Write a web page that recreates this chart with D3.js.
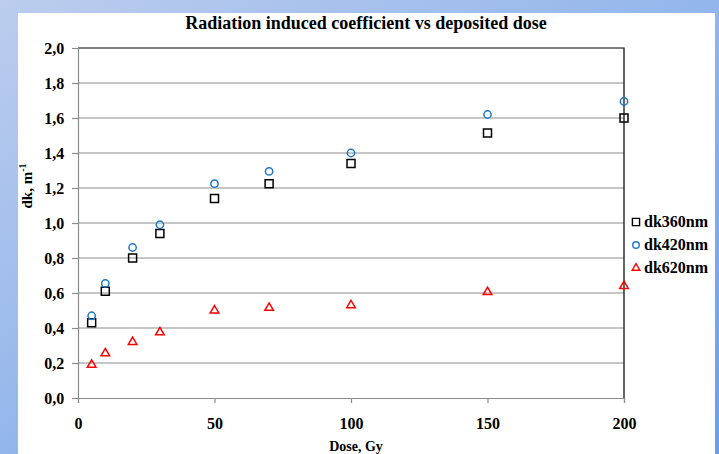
<!DOCTYPE html>
<html>
<head>
<meta charset="utf-8">
<script src="https://cdn.jsdelivr.net/npm/d3@7"></script>
<style>
  html, body { margin: 0; padding: 0; }
  body { width: 719px; height: 454px; overflow: hidden; }
  svg { display: block; }
  svg text { font-family: "Liberation Serif", "DejaVu Serif", serif; font-weight: bold; }
</style>
</head>
<body>
<script>
'use strict';

// values
const doses = [5, 10, 20, 30, 50, 70, 100, 150, 200];
const dk360 = [0.43, 0.61, 0.80, 0.94, 1.14, 1.225, 1.34, 1.515, 1.60];
const dk420 = [0.47, 0.655, 0.86, 0.99, 1.225, 1.295, 1.40, 1.62, 1.695];
const dk620 = [0.19, 0.255, 0.32, 0.375, 0.50, 0.515, 0.53, 0.605, 0.64];
const xTicks = [0, 50, 100, 150, 200];
const yTicks = [0, 0.2, 0.4, 0.6, 0.8, 1.0, 1.2, 1.4, 1.6, 1.8, 2.0];

const W = 719, H = 454;
const margin = {top: 48, right: 95, bottom: 56, left: 78};

const svg = d3.select('body').append('svg')
  .attr('width', W)
  .attr('height', H);

// blue slide background
const defs = svg.append('defs');
const grad = defs.append('linearGradient')
  .attr('id', 'bg')
  .attr('x1', '0%').attr('y1', '0%')
  .attr('x2', '100%').attr('y2', '100%');
grad.append('stop').attr('offset', '0%').attr('stop-color', '#bccdee');
grad.append('stop').attr('offset', '100%').attr('stop-color', '#6a9fe8');

svg.append('rect')
  .attr('width', W).attr('height', H)
  .attr('fill', 'url(#bg)');

svg.append('rect')
  .attr('x', 18).attr('y', 13)
  .attr('width', 715 - 18).attr('height', H - 13)
  .attr('fill', '#ffffff');

const x = d3.scaleLinear().domain([0, 200]).range([margin.left, W - margin.right]);
const y = d3.scaleLinear().domain([0, 2]).range([H - margin.bottom, margin.top]);

// gridlines
svg.append('g')
  .selectAll('line')
  .data(yTicks.filter(d => d > 0 && d < 2))
  .enter().append('line')
  .attr('x1', x(0)).attr('x2', x(200))
  .attr('y1', d => y(d)).attr('y2', d => y(d))
  .attr('stroke', '#8c8c8c')
  .attr('stroke-width', 1);

// top and right frame
svg.append('path')
  .attr('d', 'M' + x(0) + ',' + y(2) + 'H' + x(200) + 'V' + y(0))
  .attr('fill', 'none')
  .attr('stroke', '#000')
  .attr('stroke-width', 1.2);

// axes
const xAxis = d3.axisBottom(x).tickValues(xTicks).tickSize(5).tickFormat(d3.format('d'));
const yAxis = d3.axisLeft(y).tickValues(yTicks).tickSize(6)
  .tickFormat(d => d3.format('.1f')(d).replace('.', ','));

const gx = svg.append('g')
  .attr('transform', 'translate(0,' + y(0) + ')')
  .call(xAxis);
gx.selectAll('text').attr('dy', '1.45em');

const gy = svg.append('g')
  .attr('transform', 'translate(' + x(0) + ',0)')
  .call(yAxis);
gy.selectAll('text').attr('dx', '-0.3em');

svg.selectAll('.domain, .tick line')
  .attr('stroke', '#8c8c8c')
  .attr('stroke-width', 1.2);
svg.selectAll('g.tick text')
  .attr('fill', '#000')
  .style('font-size', '16px');

// series
const series = [
  {name: 'dk360nm', values: dk360, color: '#000000', shape: d3.symbolSquare, size: 64},
  {name: 'dk420nm', values: dk420, color: '#1a78c8', shape: d3.symbolCircle, size: 42},
  {name: 'dk620nm', values: dk620, color: '#ff0000', shape: d3.symbolTriangle, size: 32}
];

series.forEach(s => {
  svg.append('g')
    .selectAll('path')
    .data(doses.map((d, i) => ({dose: d, v: s.values[i]})))
    .enter().append('path')
    .attr('d', d3.symbol().type(s.shape).size(s.size))
    .attr('transform', d => 'translate(' + x(d.dose) + ',' + y(d.v) + ')')
    .attr('fill', 'none')
    .attr('stroke', s.color)
    .attr('stroke-width', 1.5);
});

// legend
const legend = svg.append('g')
  .attr('transform', 'translate(636,222)');
series.forEach((s, i) => {
  legend.append('path')
    .attr('d', d3.symbol().type(s.shape).size(s.size * 0.8))
    .attr('transform', 'translate(0,' + (i * 23) + ')')
    .attr('fill', 'none')
    .attr('stroke', s.color)
    .attr('stroke-width', 1.4);
  legend.append('text')
    .attr('x', 8)
    .attr('y', i * 23 + 5)
    .style('font-size', '16px')
    .text(s.name);
});

// labels
svg.append('text')
  .attr('x', 366).attr('y', 29)
  .attr('text-anchor', 'middle')
  .style('font-size', '18px')
  .text('Radiation induced coefficient vs deposited dose');

svg.append('text')
  .attr('x', x(100) + 5).attr('y', 451)
  .attr('text-anchor', 'middle')
  .style('font-size', '14px')
  .text('Dose, Gy');

const ylab = svg.append('text')
  .attr('transform', 'translate(32,186) rotate(-90)')
  .attr('text-anchor', 'middle')
  .style('font-size', '15px');
ylab.append('tspan').text('dk, m');
ylab.append('tspan').attr('dy', -6).style('font-size', '10px').text('-1');
</script>
</body>
</html>
